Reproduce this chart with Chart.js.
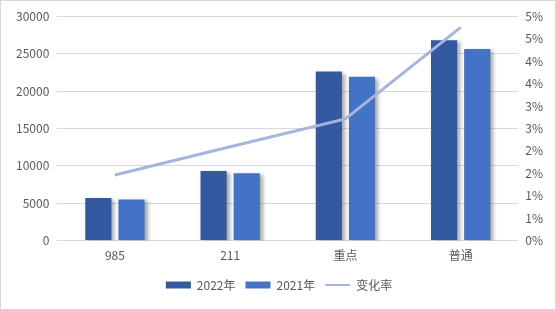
<!DOCTYPE html>
<html>
<head>
<meta charset="utf-8">
<script src="https://cdn.jsdelivr.net/npm/chart.js@4/dist/chart.umd.min.js"></script>
<style>
  html, body { margin: 0; padding: 0; background: #fff; }
  #wrap { width: 556px; height: 310px; box-sizing: border-box; border: 1px solid #d9d9d9; position: relative; }
  canvas { display: block; }
</style>
</head>
<body>
<div id="wrap"><canvas id="chart" width="554" height="308"></canvas></div>
<script>
const categories = ['985', '211', '重点', '普通'];
const values2022 = [5700, 9300, 22600, 26800];
const values2021 = [5500, 9000, 21900, 25600];
const changeRate = [1.46, 2.09, 2.71, 4.75];

// drop shadow under the bars, like the office chart
const barShadow = {
    id: 'barShadow',
    beforeDatasetDraw(chart, args) {
        if (args.meta.type !== 'bar') return;
        const ctx = chart.ctx;
        ctx.save();
        ctx.shadowColor = 'rgba(0, 0, 0, 0.35)';
        ctx.shadowBlur = 4;
        ctx.shadowOffsetX = 3;
        ctx.shadowOffsetY = 2;
    },
    afterDatasetDraw(chart, args) {
        if (args.meta.type !== 'bar') return;
        chart.ctx.restore();
    }
};

const font = { family: 'Noto Sans CJK SC', size: 12 };

const ctx = document.getElementById('chart').getContext('2d');
new Chart(ctx, {
    type: 'bar',
    data: {
        labels: categories,
        datasets: [
            { label: '2022年', data: values2022, backgroundColor: '#335AA1', order: 1, yAxisID: 'y',
              categoryPercentage: 0.575, barPercentage: 0.79 },
            { label: '2021年', data: values2021, backgroundColor: '#4472C4', order: 1, yAxisID: 'y',
              categoryPercentage: 0.575, barPercentage: 0.79 },
            { type: 'line', label: '变化率', data: changeRate, borderColor: '#A5B5DE', backgroundColor: '#A5B5DE',
              borderWidth: 3, pointRadius: 0, tension: 0, order: 0, yAxisID: 'y1' }
        ]
    },
    options: {
        responsive: false,
        animation: false,
        layout: { padding: { left: 7, right: 5, top: 10, bottom: 8 } },
        scales: {
            x: {
                grid: { display: false },
                border: { display: false },
                ticks: { color: '#595959', font, padding: 0 },
                afterFit(scale) { scale.height += 6; }
            },
            y: {
                min: 0, max: 30000,
                ticks: { stepSize: 5000, color: '#595959', font, padding: 8, callback: v => String(v) },
                grid: { color: '#D9D9D9', drawTicks: false },
                border: { display: false }
            },
            y1: {
                position: 'right',
                min: 0, max: 5,
                ticks: {
                    stepSize: 0.5,
                    color: '#595959',
                    font,
                    padding: 7,
                    callback: v => Math.round(v) + '%'
                },
                grid: { display: false, drawTicks: false },
                border: { display: false }
            }
        },
        plugins: {
            tooltip: { enabled: false },
            legend: {
                position: 'bottom',
                labels: {
                    color: '#595959',
                    font,
                    usePointStyle: true,
                    pointStyleWidth: 25,
                    boxHeight: 7,
                    padding: 10,
                    generateLabels(chart) {
                        const items = Chart.defaults.plugins.legend.labels.generateLabels(chart);
                        items.sort((a, b) => a.datasetIndex - b.datasetIndex);
                        items.forEach(it => {
                            if (it.datasetIndex === 2) {
                                it.pointStyle = 'line';
                                it.lineWidth = 2;
                                it.strokeStyle = '#A5B5DE';
                            } else {
                                it.pointStyle = 'rect';
                                it.lineWidth = 0;
                            }
                        });
                        return items;
                    }
                }
            }
        }
    },
    plugins: [barShadow]
});
</script>
</body>
</html>
